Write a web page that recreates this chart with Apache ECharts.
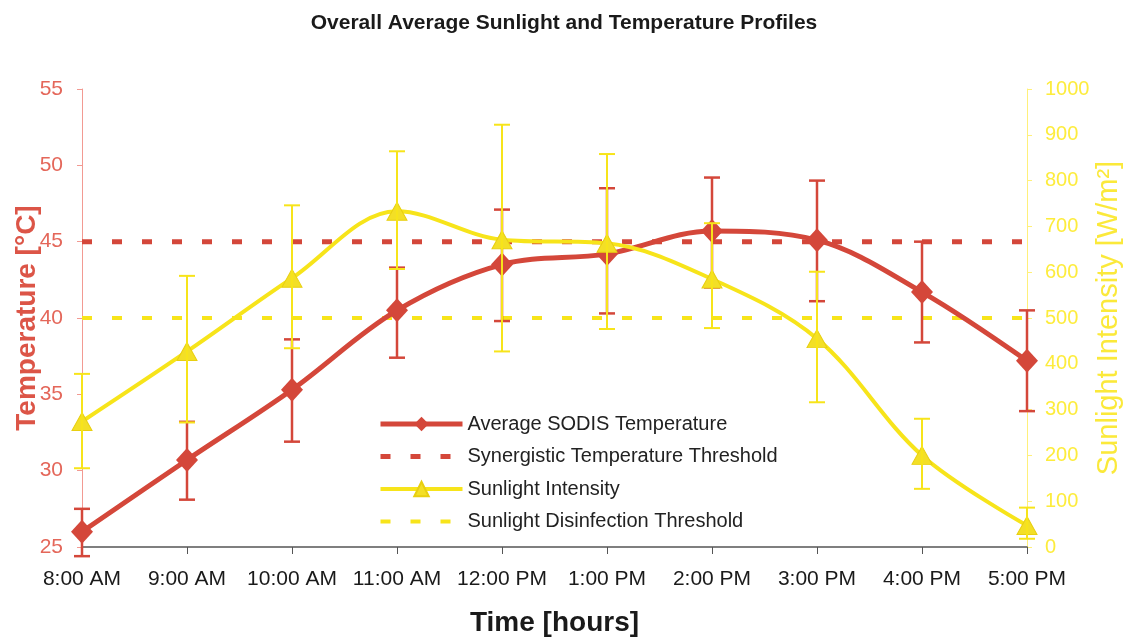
<!DOCTYPE html>
<html>
<head>
<meta charset="utf-8">
<script src="https://cdn.jsdelivr.net/npm/echarts@6/dist/echarts.min.js"></script>
<style>
html,body{margin:0;padding:0;background:#fff;}
#chart{width:1128px;height:637px;}
</style>
</head>
<body>
<div id="chart"></div>
<script>
const categories = ['8:00 AM','9:00 AM','10:00 AM','11:00 AM','12:00 PM','1:00 PM','2:00 PM','3:00 PM','4:00 PM','5:00 PM'];
const tempAvg  = [26.0, 30.7, 35.3, 40.5, 43.5, 44.2, 45.7, 45.1, 41.7, 37.2];
const tempHigh = [27.5, 33.2, 38.6, 43.3, 47.1, 48.5, 49.2, 49.0, 45.0, 40.5];
const tempLow  = [24.4, 28.1, 31.9, 37.4, 39.8, 40.3, 42.0, 41.1, 38.4, 33.9];
const tempThreshold = [45, 45, 45, 45, 45, 45, 45, 45, 45, 45];
const sunAvg  = [274, 427, 587, 733, 671, 663, 585, 455, 200, 47];
const sunHigh = [378, 592, 746, 864, 922, 858, 707, 601, 280, 86];
const sunLow  = [172, 272, 434, 607, 427, 476, 478, 316, 127, 18];
const sunThreshold = [500, 500, 500, 500, 500, 500, 500, 500, 500, 500];

const RED = '#d4473a';
const YEL = '#f7e41a';
const FONT = 'Liberation Sans, Arial, sans-serif';

function errorBars(low, high) {
  return categories.map((c, i) => [i, low[i], high[i]]);
}
function errRender(color, lw) {
  return function (params, api) {
    const x = api.value(0);
    const pLo = api.coord([x, api.value(1)]);
    const pHi = api.coord([x, api.value(2)]);
    const w = 8;
    const st = { stroke: color, lineWidth: lw };
    return {
      type: 'group',
      children: [
        { type: 'line', shape: { x1: pLo[0], y1: pLo[1], x2: pHi[0], y2: pHi[1] }, style: st },
        { type: 'line', shape: { x1: pLo[0] - w, y1: pLo[1], x2: pLo[0] + w, y2: pLo[1] }, style: st },
        { type: 'line', shape: { x1: pHi[0] - w, y1: pHi[1], x2: pHi[0] + w, y2: pHi[1] }, style: st }
      ]
    };
  };
}

const hidden = { color: 'rgba(0,0,0,0)', borderWidth: 0, opacity: 0 };

const chart = echarts.init(document.getElementById('chart'));
chart.setOption({
  animation: false,
  backgroundColor: '#fff',
  textStyle: { fontFamily: FONT },
  title: {
    text: 'Overall Average Sunlight and Temperature Profiles',
    left: 'center', top: 8,
    textStyle: { fontSize: 21, fontWeight: 'bold', color: '#1a1a1a', fontFamily: FONT }
  },
  legend: {
    orient: 'vertical', left: 378, top: 414, padding: 0,
    itemWidth: 82, itemHeight: 18, itemGap: 12.5,
    data: [
      { name: 'Average SODIS Temperature', lineStyle: { width: 5 } },
      { name: 'Synergistic Temperature Threshold', lineStyle: { width: 5 }, itemStyle: hidden },
      { name: 'Sunlight Intensity', lineStyle: { width: 4 } },
      { name: 'Sunlight Disinfection Threshold', lineStyle: { width: 4 }, itemStyle: hidden }
    ],
    textStyle: { fontSize: 20, color: '#222', fontFamily: FONT, lineHeight: 20 }
  },
  grid: { left: 82, right: 101, top: 89, bottom: 90, containLabel: false, outerBoundsMode: 'none' },
  xAxis: {
    type: 'category', data: categories, boundaryGap: false,
    name: 'Time [hours]', nameLocation: 'middle', nameGap: 62, nameMoveOverlap: false,
    nameTextStyle: { fontSize: 28, fontWeight: 'bold', color: '#1a1a1a', fontFamily: FONT },
    axisLine: { lineStyle: { color: '#555', width: 1.5 } },
    axisTick: { show: true, inside: false, length: 7, alignWithLabel: true, interval: 0, lineStyle: { color: '#555' } },
    axisLabel: { fontSize: 21, color: '#1a1a1a', margin: 22, interval: 0, fontFamily: FONT },
    splitLine: { show: false }
  },
  yAxis: [
    {
      type: 'value', min: 25, max: 55, interval: 5, position: 'left',
      name: 'Temperature [°C]', nameLocation: 'middle', nameGap: 41, nameRotate: 90, nameMoveOverlap: false,
      nameTextStyle: { fontSize: 28, fontWeight: 'bold', color: '#dc5547', fontFamily: FONT },
      axisLine: { show: true, lineStyle: { color: '#f29a92', width: 1 } },
      axisTick: { show: true, length: 5, lineStyle: { color: '#f29a92' } },
      axisLabel: { fontSize: 21, color: '#e4675a', margin: 19, fontFamily: FONT },
      splitLine: { show: false }
    },
    {
      type: 'value', min: 0, max: 1000, interval: 100, position: 'right',
      name: 'Sunlight Intensity [W/m²]', nameLocation: 'middle', nameGap: 67, nameRotate: 90, nameMoveOverlap: false,
      nameTextStyle: { fontSize: 29, color: '#fbe93a', fontFamily: FONT },
      axisLine: { show: true, lineStyle: { color: '#fff07a', width: 1 } },
      axisTick: { show: true, length: 5, lineStyle: { color: '#fff07a' } },
      axisLabel: { fontSize: 20, color: '#fdec3c', margin: 18, fontFamily: FONT, formatter: v => String(v) },
      splitLine: { show: false }
    }
  ],
  series: [
    {
      name: 'Synergistic Temperature Threshold', type: 'line', yAxisIndex: 0,
      data: tempThreshold, symbol: 'none', z: 2,
      lineStyle: { color: RED, width: 5, type: [10, 20] }, itemStyle: { color: RED }
    },
    {
      name: 'Sunlight Disinfection Threshold', type: 'line', yAxisIndex: 1,
      data: sunThreshold, symbol: 'none', z: 2,
      lineStyle: { color: YEL, width: 4, type: [10, 20] }, itemStyle: { color: YEL }
    },
    {
      name: 'tempErr', type: 'custom', yAxisIndex: 0, clip: false, z: 3,
      data: errorBars(tempLow, tempHigh), encode: { x: 0, y: [1, 2] },
      renderItem: errRender(RED, 2.5)
    },
    {
      name: 'Average SODIS Temperature', type: 'line', yAxisIndex: 0,
      data: tempAvg, smooth: 0.35, z: 4,
      symbol: 'diamond', symbolSize: [22, 24],
      lineStyle: { color: RED, width: 5 }, itemStyle: { color: RED }
    },
    {
      name: 'Sunlight Intensity', type: 'line', yAxisIndex: 1,
      data: sunAvg, smooth: 0.35, z: 5,
      symbol: 'triangle', symbolSize: [20, 18],
      lineStyle: { color: YEL, width: 4 }, itemStyle: { color: '#f3df26', borderColor: '#e8cf10', borderWidth: 1 }
    },
    {
      name: 'sunErr', type: 'custom', yAxisIndex: 1, clip: false, z: 6,
      data: errorBars(sunLow, sunHigh), encode: { x: 0, y: [1, 2] },
      renderItem: errRender(YEL, 2)
    }
  ]
});
</script>
</body>
</html>
